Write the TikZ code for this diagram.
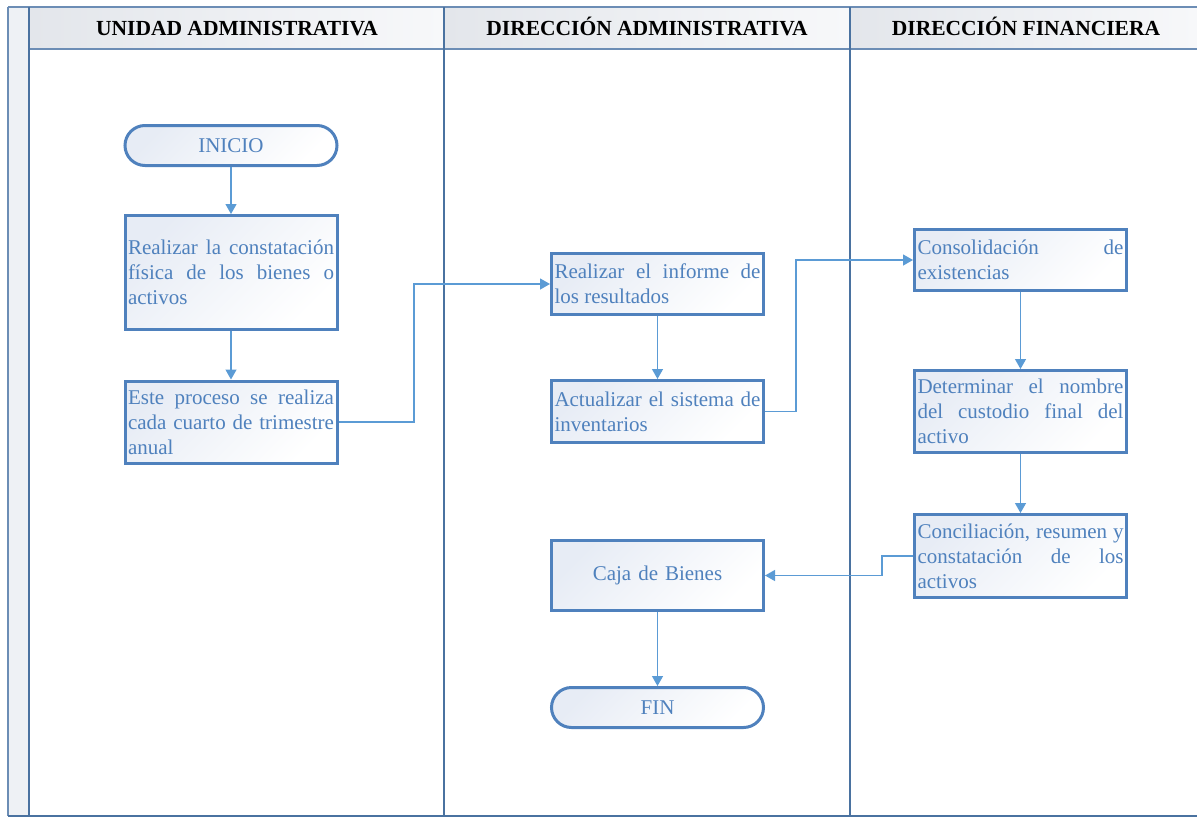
\documentclass[tikz,border=0pt]{standalone}
\usepackage{fontspec}
\setmainfont{Liberation Serif}
\usetikzlibrary{arrows.meta}

\definecolor{boxc}{HTML}{4F81BD}
\definecolor{txtc}{HTML}{4F81BD}
\definecolor{linkc}{HTML}{5B9BD5}
\definecolor{framec}{HTML}{4A72A0}
\definecolor{rulec}{HTML}{6C8DB5}
\definecolor{headc}{HTML}{E3E6EB}
\definecolor{headr}{HTML}{F7F8FA}
\definecolor{stripc}{HTML}{EEF1F5}
\definecolor{boxfill}{HTML}{E7ECF5}

\newcommand{\boxfont}{\fontsize{21}{25}\selectfont\hyphenpenalty=10000 \exhyphenpenalty=10000 }

\tikzset{
  boxtext/.style={text=txtc, font=\boxfont},
  stepbox/.style={draw=boxc, line width=3pt, top color=boxfill, bottom color=white, shading angle=45,
    boxtext, text width=206pt, align=justify, inner xsep=3pt, inner ysep=0pt},
  terminal/.style={draw=boxc, line width=3pt, rounded corners=20pt, top color=boxfill, bottom color=white,
    shading angle=45, boxtext, align=center, minimum width=212pt, minimum height=40pt, inner sep=0pt},
  link/.style={draw=linkc, line width=1.3pt, -{Triangle[length=10pt,width=11pt]}},
  lanehead/.style={font=\fontsize{21.5}{24}\bfseries\selectfont, text=black, anchor=base},
  headcell/.style={left color=headc, right color=headr},
}

\begin{document}
\begin{tikzpicture}[x=1pt,y=-1pt]
\useasboundingbox (0,0) rectangle (1197,817);

% lane frame
\fill[stripc] (8,7) rectangle (29,816);
\fill[headcell] (29,7) rectangle (444,49);
\fill[headcell] (444,7) rectangle (850,49);
\fill[headcell] (850,7) rectangle (1197,49);
\draw[rulec, line width=1.6pt] (8,7) -- (1197,7);
\draw[rulec, line width=1.4pt] (29,49) -- (1197,49);
\draw[rulec, line width=1.6pt] (8,7) -- (8,816);
\draw[framec, line width=1.5pt] (29,7) -- (29,816);
\draw[framec, line width=1.5pt] (444,7) -- (444,816);
\draw[framec, line width=1.5pt] (850,7) -- (850,816);
\draw[framec, line width=1.8pt] (8,816) -- (1197,816);

% lane titles
\node[lanehead] (h1) at (237,35) {UNIDAD ADMINISTRATIVA};
\node[lanehead] (h2) at (647,35) {DIRECCIÓN ADMINISTRATIVA};
\node[lanehead] (h3) at (1026,35) {DIRECCIÓN FINANCIERA};

% steps
\node[terminal] (inicio) at (231,145.5) {INICIO};
\node[stepbox, minimum height=114pt] (a) at (231,272.5)
  {Realizar la constatación\linebreak física de los bienes o\linebreak activos};
\node[stepbox, minimum height=82pt] (b) at (231,422)
  {Este proceso se realiza\linebreak cada cuarto de trimestre\linebreak anual};
\node[stepbox, minimum height=61pt] (c) at (657.5,284)
  {Realizar el informe de\linebreak los resultados};
\node[stepbox, minimum height=62pt] (d) at (657.5,411.5)
  {Actualizar el sistema de\linebreak inventarios};
\node[stepbox, minimum height=61pt] (e) at (1020.5,260)
  {Consolidación de\linebreak existencias};
\node[stepbox, minimum height=82pt] (f) at (1020.5,411.5)
  {Determinar el nombre\linebreak del custodio final del\linebreak activo};
\node[stepbox, minimum height=83pt] (g) at (1020.5,556)
  {Conciliación, resumen y\linebreak constatación de los\linebreak activos};
\node[stepbox, align=center, minimum height=70pt] (h) at (657.5,575.5) {Caja de Bienes};
\node[terminal] (fin) at (657.5,707.5) {FIN};

% bend points of the elbow connectors
\coordinate (k1) at (414,0);
\coordinate (k2) at (796,0);
\coordinate (k3) at (882,0);

% connectors
\draw[link] (inicio) -- (a);
\draw[link] (a) -- (b);
\draw[link] (b.east) -- (b.east -| k1) |- (c.west);
\draw[link] (c) -- (d);
\draw[link] (d.east) -- (d.east -| k2) |- (e.west);
\draw[link] (e) -- (f);
\draw[link] (f) -- (g);
\draw[link] (g.west) -- (g.west -| k3) |- (h.east);
\draw[link] (h) -- (fin);
\end{tikzpicture}
\end{document}
